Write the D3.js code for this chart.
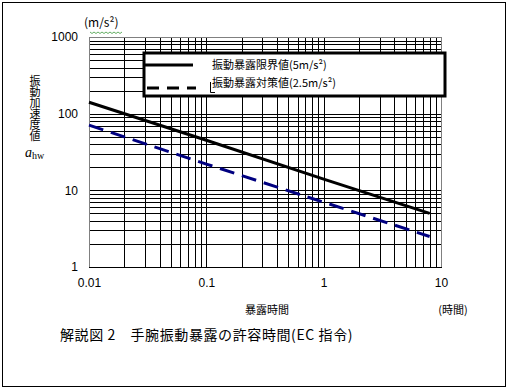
<!DOCTYPE html>
<html>
<head>
<meta charset="utf-8">
<script src="https://cdn.jsdelivr.net/npm/d3@7"></script>
<style>
  body { margin: 0; background: #fff; }
  text { font-family: "Noto Sans CJK JP", sans-serif; fill: #000; }
</style>
</head>
<body>
<svg width="509" height="389"></svg>
<script>
// data
var hours = [0.01, 0.1, 1, 8];
var limitValues = [141, 45, 14, 5];      // 振動暴露限界値 (5m/s²)
var actionValues = [71, 22, 7, 2.5];     // 振動暴露対策値 (2.5m/s²)
var xTickValues = [0.01, 0.1, 1, 10];
var yTickValues = [1, 10, 100, 1000];
var legendLabels = ["振動暴露限界値(5m/s²)", "振動暴露対策値(2.5m/s²)"];

var svg = d3.select("svg");

// outer frame
svg.append("rect")
    .attr("x", 2.5).attr("y", 2.5)
    .attr("width", 503).attr("height", 384)
    .attr("fill", "none").attr("stroke", "#000").attr("stroke-width", 1);

var x = d3.scaleLog().domain([0.01, 10]).range([89, 441]);
var y = d3.scaleLog().domain([1, 1000]).range([267, 37]);

// grid lines
var grid = svg.append("g").attr("shape-rendering", "crispEdges");
grid.selectAll(".vg")
    .data(x.ticks())
    .enter().append("line")
    .attr("x1", function (d) { return Math.round(x(d)) + 0.5; })
    .attr("x2", function (d) { return Math.round(x(d)) + 0.5; })
    .attr("y1", y(1000)).attr("y2", y(1))
    .attr("stroke", "#000");
grid.selectAll(".hg")
    .data(y.ticks())
    .enter().append("line")
    .attr("y1", function (d) { return Math.round(y(d)) + 0.5; })
    .attr("y2", function (d) { return Math.round(y(d)) + 0.5; })
    .attr("x1", x(0.01)).attr("x2", x(10))
    .attr("stroke", "#000");

// plot border: gray left/top/right, black bottom
grid.append("path")
    .attr("d", "M" + (x(0.01) + 0.5) + "," + y(1) + "V" + (y(1000) + 0.5) + "H" + (x(10) + 0.5) + "V" + y(1))
    .attr("fill", "none").attr("stroke", "#808080");
grid.append("line")
    .attr("x1", x(0.01)).attr("x2", x(10) + 1)
    .attr("y1", y(1) + 0.5).attr("y2", y(1) + 0.5)
    .attr("stroke", "#000");

// axes
var yAxis = svg.append("g")
    .attr("transform", "translate(" + x(0.01) + ",0)")
    .call(d3.axisLeft(y).tickValues(yTickValues).tickFormat(d3.format("d")).tickSize(0).tickPadding(11));
var xAxis = svg.append("g")
    .attr("transform", "translate(0," + y(1) + ")")
    .call(d3.axisBottom(x).tickValues(xTickValues).tickFormat(function (d) { return String(d); }).tickSize(0).tickPadding(11));
[xAxis, yAxis].forEach(function (a) {
    a.select(".domain").remove();
    a.selectAll("text").style("font-family", "'Liberation Sans', Arial, sans-serif").style("font-size", "12px").attr("fill", "#000");
});

// series
var line = d3.line()
    .x(function (d) { return x(d[0]); })
    .y(function (d) { return y(d[1]); });

svg.append("path")
    .datum(d3.zip(hours, actionValues))
    .attr("d", line)
    .attr("fill", "none").attr("stroke", "#000080")
    .attr("stroke-width", 3).attr("stroke-dasharray", "15,8");
svg.append("path")
    .datum(d3.zip(hours, limitValues))
    .attr("d", line)
    .attr("fill", "none").attr("stroke", "#000").attr("stroke-width", 3);

// legend box
var legend = svg.append("g");
legend.append("rect")
    .attr("x", 144).attr("y", 53).attr("width", 301).attr("height", 43)
    .attr("fill", "#fff").attr("stroke", "#000").attr("stroke-width", 3);
legend.append("line")
    .attr("x1", 145).attr("x2", 193).attr("y1", 65).attr("y2", 65)
    .attr("stroke", "#000").attr("stroke-width", 3);
legend.append("line")
    .attr("x1", 147).attr("x2", 196).attr("y1", 88).attr("y2", 88)
    .attr("stroke", "#000").attr("stroke-width", 3).attr("stroke-dasharray", "12,8");
legend.selectAll("text")
    .data(legendLabels)
    .enter().append("text")
    .attr("x", 212)
    .attr("y", function (d, i) { return 69 + i * 18; })
    .style("font-size", "11px")
    .text(function (d) { return d; });
// little stray bracket before the second label
legend.append("path")
    .attr("d", "M210.5,82V92.5H215")
    .attr("fill", "none").attr("stroke", "#000");

// unit label with squiggle
svg.append("text")
    .attr("x", 84).attr("y", 27)
    .style("font-size", "12px")
    .text("(m/s²)");
var squiggle = "M90,32";
for (var i = 0; i < 8; i++) squiggle += "l2,1.5l2,-1.5";
svg.append("path").attr("d", squiggle)
    .attr("fill", "none").attr("stroke", "#3c9a3c").attr("stroke-width", 0.8);

// vertical y title
svg.append("text")
    .attr("x", 35).attr("y", 75)
    .style("writing-mode", "vertical-rl")
    .style("font-size", "11px")
    .style("letter-spacing", "0px")
    .text("振動加速度値");
var ahw = svg.append("text").attr("x", 25).attr("y", 157);
ahw.append("tspan").style("font-family", "'Liberation Serif', serif").style("font-style", "italic").style("font-size", "14px").text("a");
ahw.append("tspan").attr("dy", 2).style("font-family", "'Liberation Serif', serif").style("font-size", "10px").text("hw");

// x title
svg.append("text")
    .attr("x", 267).attr("y", 314)
    .attr("text-anchor", "middle")
    .style("font-size", "11px")
    .text("暴露時間");
svg.append("text")
    .attr("x", 453).attr("y", 314)
    .attr("text-anchor", "middle")
    .style("font-size", "11px")
    .text("(時間)");

// caption
svg.append("text")
    .attr("x", 60).attr("y", 340)
    .style("font-size", "14px")
    .style("letter-spacing", "0.6px")
    .text("解説図 2　手腕振動暴露の許容時間(EC 指令)");
</script>
</body>
</html>
